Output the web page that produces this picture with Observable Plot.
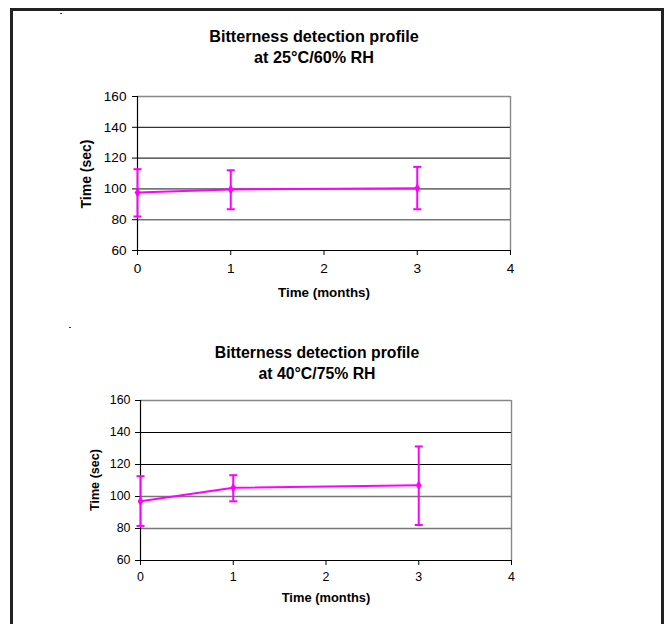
<!DOCTYPE html>
<html>
<head>
<meta charset="utf-8">
<script src="https://cdn.jsdelivr.net/npm/d3@7"></script>
<script src="https://cdn.jsdelivr.net/npm/@observablehq/plot@0.6"></script>
<style>
  html, body { margin: 0; padding: 0; background: #fff; width: 665px; height: 624px; overflow: hidden; }
  body { position: relative; font-family: "Liberation Sans", Arial, Helvetica, sans-serif; color: #000; }
  .frame { position: absolute; left: 10px; top: 8px; width: 648px; height: 700px; border: 3px solid #222; }
  .abs { position: absolute; }
  .title { position: absolute; font-weight: bold; text-align: center; line-height: 21px; white-space: nowrap; transform: translateX(-50%); }
  .xlab { position: absolute; font-weight: bold; white-space: nowrap; transform: translate(-50%, -50%); }
  .ylab { position: absolute; font-weight: bold; white-space: nowrap; transform: translate(-50%, -50%) rotate(-90deg); }
  .dash { position: absolute; width: 2px; height: 1px; background: #333; }
</style>
</head>
<body>
<div class="frame"></div>
<div class="dash" style="left:60px;top:13px"></div>
<div class="dash" style="left:69px;top:327px"></div>
<div id="c1" class="abs" style="left:0;top:0"></div>
<div id="c2" class="abs" style="left:0;top:310px"></div>

<div class="title" style="left:314px;top:26px;font-size:16.2px">Bitterness detection profile<br>at 25°C/60% RH</div>
<div class="xlab" style="left:324px;top:292px;font-size:13.4px">Time (months)</div>
<div class="ylab" style="left:86px;top:174px;font-size:14px">Time (sec)</div>

<div class="title" style="left:317px;top:342px;font-size:15.8px">Bitterness detection profile<br>at 40°C/75% RH</div>
<div class="xlab" style="left:326px;top:597px;font-size:12.9px">Time (months)</div>
<div class="ylab" style="left:95px;top:480px;font-size:12.6px">Time (sec)</div>

<script>
// ---- data ----
const months = [0, 1, 3];
const mean25 = [97.7, 99.6, 100.5];
const upper25 = [112.8, 112.1, 114.3];
const lower25 = [82.1, 86.8, 86.8];
const mean40 = [97.0, 105.4, 107.0];
const upper40 = [112.7, 113.3, 131.3];
const lower40 = [81.6, 97.0, 82.2];
const xTicks = [0, 1, 2, 3, 4];
const yTicks = [60, 80, 100, 120, 140, 160];
const gridValues = [80, 100, 120, 140];

const MAGENTA = "#ff00ff";
const cap = {
  draw(context, size) {
    const r = Math.sqrt(size / Math.PI);
    context.moveTo(-r, 0);
    context.lineTo(r, 0);
  }
};

function makeChart(opts) {
  const data = months.map((m, i) => ({month: m, mean: opts.mean[i], upper: opts.upper[i], lower: opts.lower[i]}));
  const fam = "'Liberation Sans', Arial, sans-serif";
  return Plot.plot({
    width: 665,
    height: opts.height,
    marginLeft: opts.ml,
    marginRight: opts.mr,
    marginTop: opts.mt,
    marginBottom: opts.mb,
    style: {fontSize: opts.fontSize + "px", fontFamily: fam, background: "transparent", overflow: "visible", color: "#000"},
    x: {domain: [0, 4]},
    y: {domain: [60, 160]},
    marks: [
      Plot.ruleY(gridValues.filter(v => v >= 120), {stroke: "#000", strokeWidth: 1}),
      Plot.ruleY(gridValues.filter(v => v < 120), {stroke: "#777", strokeWidth: 1.6}),
      Plot.ruleY([160], {stroke: "#888", strokeWidth: 1.4}),
      Plot.ruleX([4], {stroke: "#888", strokeWidth: 1.4}),
      Plot.ruleX([0], {stroke: "#000", strokeWidth: 1.2}),
      Plot.ruleY([60], {stroke: "#000", strokeWidth: 1.2}),
      Plot.axisY({ticks: yTicks, tickSize: 5, tickPadding: opts.padY, tickFormat: d => String(d), label: null, stroke: "#000", fontSize: opts.fontSize, fontFamily: fam, fill: "#000"}),
      Plot.axisX({ticks: xTicks, tickSize: 5, tickPadding: opts.padX, tickFormat: d => String(d), label: null, stroke: "#000", fontSize: opts.fontSize, fontFamily: fam, fill: "#000"}),
      Plot.ruleX(data, {x: "month", y1: "lower", y2: "upper", stroke: MAGENTA, strokeWidth: 2}),
      Plot.dot(data, {x: "month", y: "upper", symbol: cap, r: 4, stroke: MAGENTA, strokeWidth: 2, fill: "none"}),
      Plot.dot(data, {x: "month", y: "lower", symbol: cap, r: 4, stroke: MAGENTA, strokeWidth: 2, fill: "none"}),
      Plot.line(data, {x: "month", y: "mean", stroke: MAGENTA, strokeWidth: 2}),
      Plot.dot(data, {x: "month", y: "mean", symbol: "diamond", r: 3, fill: MAGENTA, stroke: "none"})
    ]
  });
}

document.getElementById("c1").append(makeChart({
  height: 310, ml: 137, mr: 155, mt: 96, mb: 60, fontSize: 13.6, padX: 8, padY: 6,
  mean: mean25, upper: upper25, lower: lower25
}));
document.getElementById("c2").append(makeChart({
  height: 314, ml: 140, mr: 154, mt: 90, mb: 64, fontSize: 12.4, padX: 7, padY: 5,
  mean: mean40, upper: upper40, lower: lower40
}));
</script>
</body>
</html>
